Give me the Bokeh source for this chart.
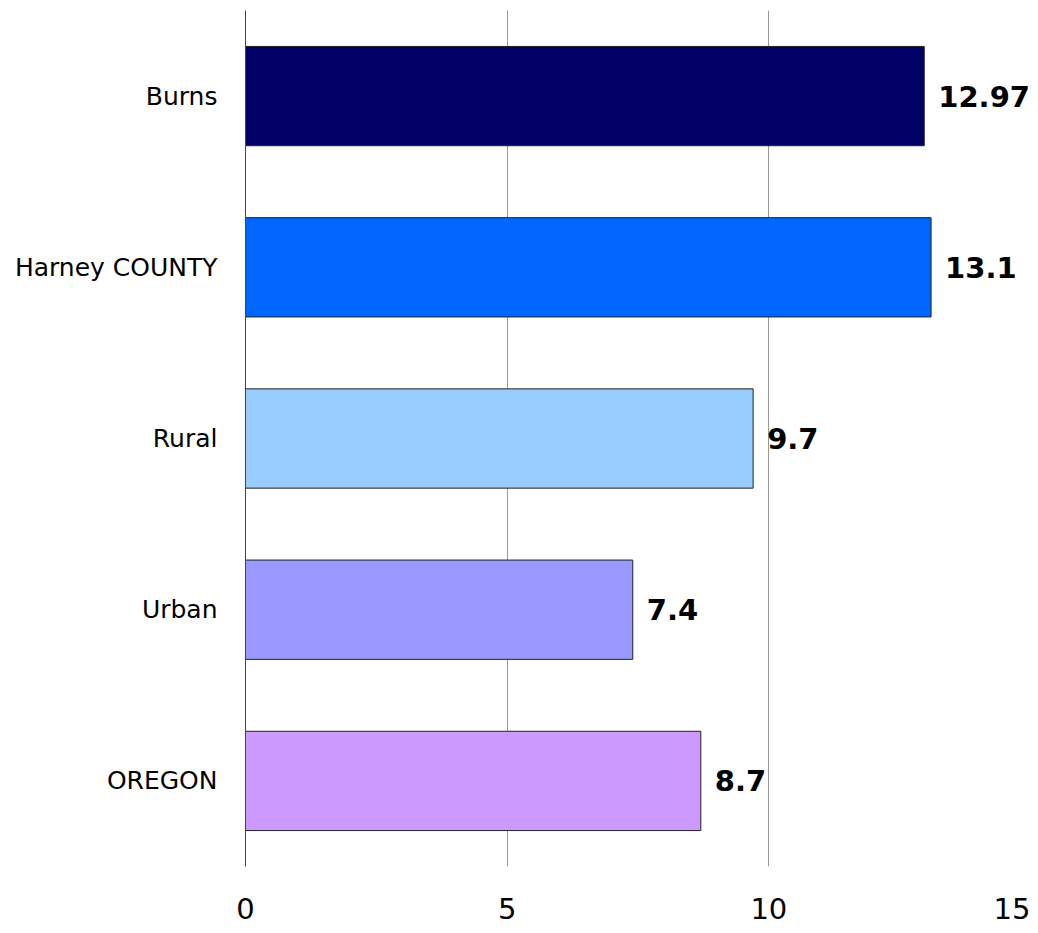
from bokeh.plotting import figure
from bokeh.models import FactorRange, Range1d, FixedTicker, ColumnDataSource
from bokeh.core.properties import value
from bokeh.embed import file_html
from bokeh.resources import INLINE

categories = ["Burns", "Harney COUNTY", "Rural", "Urban", "OREGON"]
values = [12.97, 13.1, 9.7, 7.4, 8.7]
colors = ["#000066", "#0066FF", "#99CCFF", "#9999FF", "#CC99FF"]
x_ticks = [0, 5, 10, 15]
labels = [str(v) for v in values]

src = ColumnDataSource(dict(cat=categories, val=values, color=colors, label=labels))

p = figure(
    width=1030, height=925,
    y_range=FactorRange(factors=list(reversed(categories)), range_padding=0),
    x_range=Range1d(0, 15),
    output_backend="svg", toolbar_location=None,
    min_border_left=245, min_border_right=0, min_border_top=10, min_border_bottom=59,
)
p.outline_line_color = None
p.background_fill_color = "white"
p.border_fill_color = "white"

p.hbar(y="cat", right="val", left=0, height=0.58, fill_color="color",
       line_color="#222222", line_width=1, source=src)

p.text(x="val", y="cat", text="label", source=src, x_offset=14,
       text_baseline="middle", text_align="left",
       text_font=value("DejaVu Sans"), text_font_style="bold",
       text_font_size="29px", text_color="black")

p.xaxis.ticker = FixedTicker(ticks=x_ticks)
p.xaxis.axis_line_color = None
p.xaxis.major_tick_line_color = None
p.xaxis.minor_tick_line_color = None
p.xaxis.major_label_text_font = "DejaVu Sans"
p.xaxis.major_label_text_font_size = "29px"
p.xaxis.major_label_text_color = "black"
p.xaxis.major_label_standoff = 25

p.yaxis.axis_line_color = "#444444"
p.yaxis.axis_line_width = 1
p.yaxis.major_tick_line_color = None
p.yaxis.minor_tick_line_color = None
p.yaxis.major_label_text_font = "DejaVu Sans"
p.yaxis.major_label_text_font_size = "25px"
p.yaxis.major_label_text_color = "black"
p.yaxis.major_label_standoff = 22

p.xgrid.ticker = FixedTicker(ticks=x_ticks)
p.xgrid.grid_line_color = "#999999"
p.xgrid.grid_line_width = 1
p.ygrid.grid_line_color = None

open("out.html", "w").write(file_html(p, INLINE))
